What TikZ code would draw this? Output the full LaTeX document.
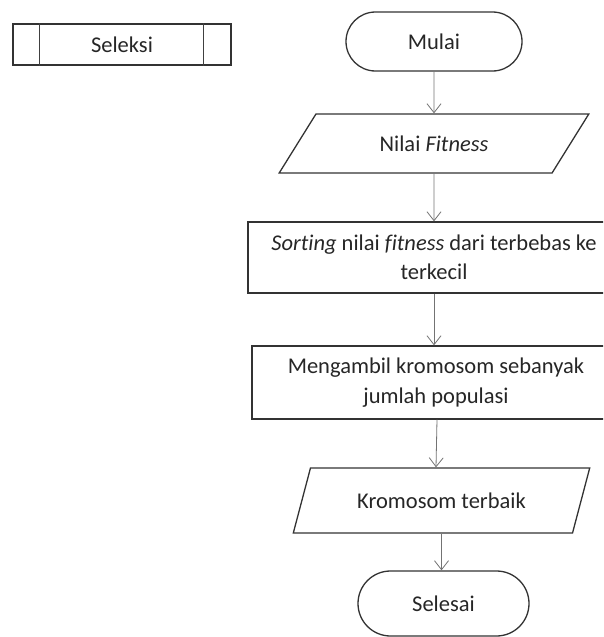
\documentclass[tikz,border=0pt]{standalone}
\usepackage{fontspec}
\setmainfont{Carlito}[Ligatures=NoCommon]
\usetikzlibrary{shapes.geometric,shapes.misc,arrows.meta}
\begin{document}
\begin{tikzpicture}[x=1pt,y=-1pt,
  every node/.style={font=\fontsize{22.5}{29.5}\selectfont, text=black!85, inner sep=0pt, align=center},
  outline/.style={draw=black!80, line width=1.3pt},
  termbox/.style={outline, rounded rectangle, minimum width=176pt, minimum height=59pt},
  procbox/.style={outline, rectangle, minimum height=71pt},
  iobox/.style={outline, trapezium, trapezium stretches=true},
  flow/.style={draw=black!55, line width=0.8pt, -{Straight Barb[length=9pt,width=14pt,line width=0.8pt]}}
]
\clip (0,0) rectangle (603,637);
\useasboundingbox (0,0) rectangle (603,637);

% legend box
\node[outline, rectangle, minimum width=218pt, minimum height=41pt] (sel) at (122,44.5) {Seleksi};
\draw[draw=black!75, line width=1.2pt] ([xshift=27pt]sel.north west) -- ([xshift=27pt]sel.south west);
\draw[draw=black!75, line width=1.2pt] ([xshift=-28pt]sel.north east) -- ([xshift=-28pt]sel.south east);

% flowchart
\node[termbox] (mulai) at (434,41.5) {Mulai};
\node[iobox, trapezium left angle=43, trapezium right angle=137, minimum width=310pt, minimum height=59pt] (nilai) at (434,143.5) {Nilai \textit{Fitness}};
\node[procbox, minimum width=372pt] (sort) at (434,257.5) {\textit{Sorting} nilai \textit{fitness} dari terbebas ke\\terkecil};
\node[procbox, minimum width=368pt, minimum height=73pt] (ambil) at (436,382.5) {Mengambil kromosom sebanyak\\jumlah populasi};
\node[iobox, trapezium left angle=55, trapezium right angle=125, minimum width=297pt, minimum height=65pt] (krom) at (441.5,500.5) {Kromosom terbaik};
\node[termbox, minimum width=171pt, minimum height=65pt] (selesai) at (443.5,603.5) {Selesai};

\draw[flow] (mulai.south) -- (nilai.north);
\draw[flow] (nilai.south) -- (sort.north);
\draw[flow] (sort.south) -- (ambil.north -| sort.south);
\draw[flow] (ambil.south) ++(1pt,0) -- (krom.north -| ambil.south);
\draw[flow] (krom.south) -- (selesai.north -| krom.south);
\end{tikzpicture}
\end{document}
